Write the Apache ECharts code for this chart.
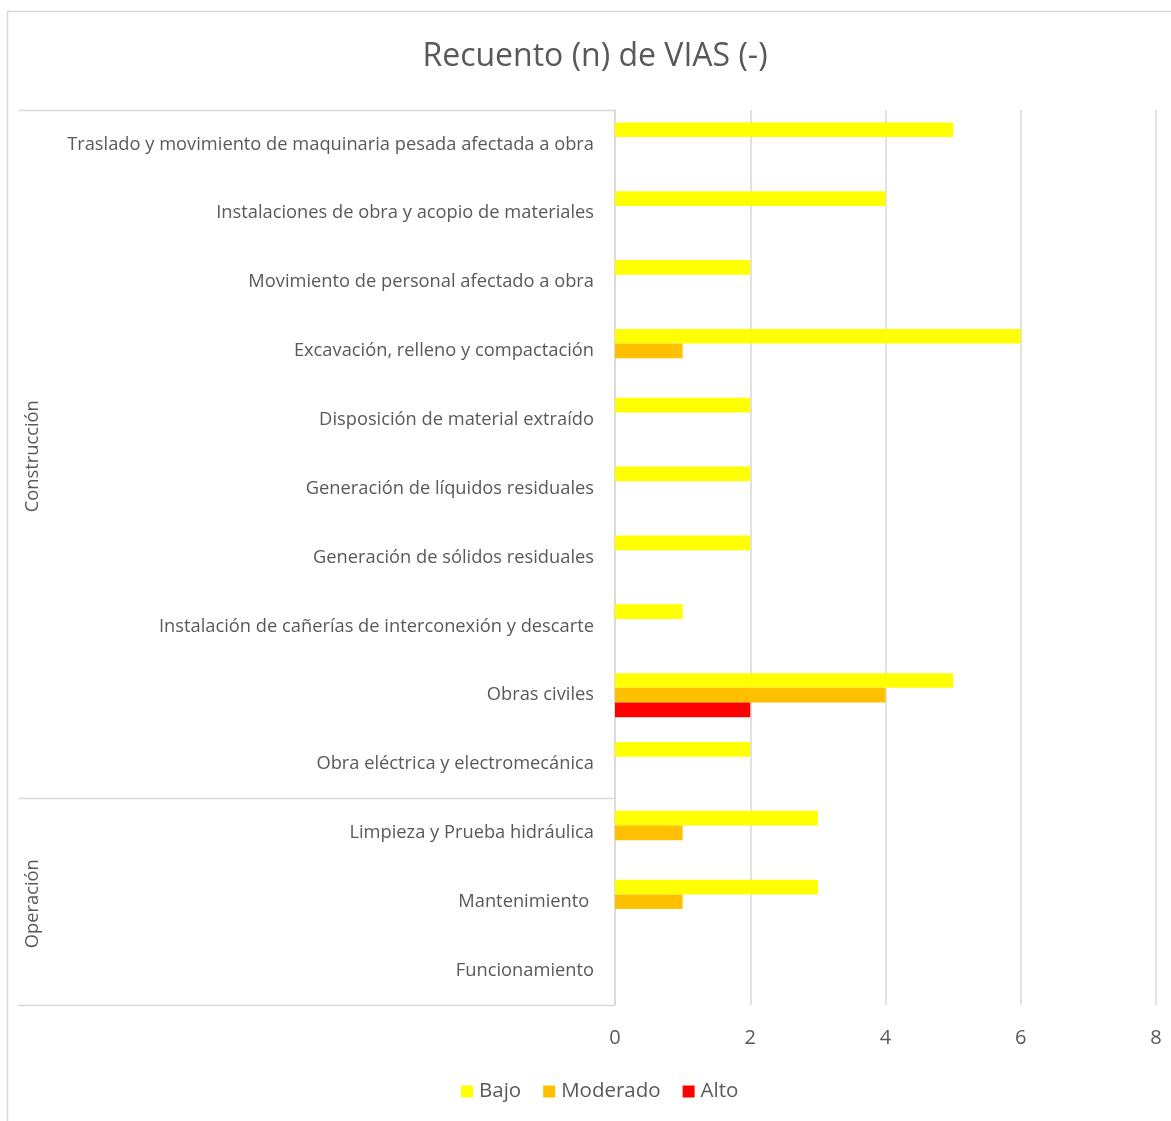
<!DOCTYPE html>
<html>
<head>
<meta charset="utf-8">
<title>Recuento (n) de VIAS (-)</title>
<script src="https://cdn.jsdelivr.net/npm/echarts@6/dist/echarts.min.js"></script>
<style>
  html, body { margin: 0; padding: 0; background: #ffffff; }
  #chart { width: 1171px; height: 1121px; }
</style>
</head>
<body>
<div id="chart"></div>
<script>
// Activities (top to bottom) and the stage each one belongs to
const categories = [
  'Traslado y movimiento de maquinaria pesada afectada a obra',
  'Instalaciones de obra y acopio de materiales',
  'Movimiento de personal afectado a obra',
  'Excavación, relleno y compactación',
  'Disposición de material extraído',
  'Generación de líquidos residuales',
  'Generación de sólidos residuales',
  'Instalación de cañerías de interconexión y descarte',
  'Obras civiles',
  'Obra eléctrica y electromecánica',
  'Limpieza y Prueba hidráulica',
  'Mantenimiento ',
  'Funcionamiento'
];
const groupNames = ['Construcción', 'Operación'];
const groupSizes = [10, 3];

// Counts of impacts per significance level
const bajo     = [5, 4, 2, 6, 2, 2, 2, 1, 5, 2, 3, 3, null];
const moderado = [null, null, null, 1, null, null, null, null, 4, null, 1, 1, null];
const alto     = [null, null, null, null, null, null, null, null, 2, null, null, null, null];

const xTicks = [0, 2, 4, 6, 8];

const FONT = '"Open Sans", "Noto Sans", sans-serif';
const TEXT = '#595959';
const LINE = '#d9d9d9';

const chart = echarts.init(document.getElementById('chart'), null, { renderer: 'canvas' });

const option = {
  backgroundColor: '#ffffff',
  animation: false,
  textStyle: { fontFamily: FONT },
  title: {
    text: 'Recuento (n) de VIAS (-)',
    left: 595,
    textAlign: 'center',
    top: 41,
    padding: 0,
    textStyle: { fontFamily: FONT, fontSize: 32, fontWeight: 'normal', color: TEXT }
  },
  legend: {
    top: 1081,
    left: 461,
    padding: 0,
    icon: 'rect',
    itemWidth: 12,
    itemHeight: 12,
    itemGap: 22,
    textStyle: { fontFamily: FONT, fontSize: 20.5, color: TEXT, padding: [0, 0, 0, 1] },
    data: ['Bajo', 'Moderado', 'Alto']
  },
  grid: { left: 615, right: 15, top: 110, bottom: 116, containLabel: false },
  xAxis: {
    type: 'value',
    min: xTicks[0],
    max: xTicks[xTicks.length - 1],
    interval: xTicks[1] - xTicks[0],
    axisLine: { show: false },
    axisTick: { show: false },
    splitLine: { show: true, lineStyle: { color: LINE, width: 1.5 } },
    axisLabel: { fontFamily: FONT, fontSize: 20, color: TEXT, margin: 23 }
  },
  yAxis: {
    type: 'category',
    inverse: true,
    data: categories,
    axisLine: { show: true, lineStyle: { color: LINE, width: 1.5 } },
    axisTick: { show: false },
    axisLabel: { fontFamily: FONT, fontSize: 18.3, color: TEXT, margin: 21 }
  },
  series: [
    { name: 'Bajo', type: 'bar', data: bajo, itemStyle: { color: '#FFFF00' }, barGap: '0%', barCategoryGap: '36%' },
    { name: 'Moderado', type: 'bar', data: moderado, itemStyle: { color: '#FFC000' }, barGap: '0%', barCategoryGap: '36%' },
    { name: 'Alto', type: 'bar', data: alto, itemStyle: { color: '#FF0000' }, barGap: '0%', barCategoryGap: '36%' }
  ]
};

chart.setOption(option);

// Second-level category labels (stages) with their separator lines
function drawGroups() {
  const yAt = (i) => chart.convertToPixel({ yAxisIndex: 0 }, i);
  const band = yAt(1) - yAt(0);
  const axisX = chart.convertToPixel({ xAxisIndex: 0 }, 0);
  const leftX = 18;
  const elements = [];
  // outer chart border
  elements.push({
    type: 'rect', silent: true,
    shape: { x: 7.5, y: 11.5, width: 1400, height: 1400 },
    style: { fill: 'none', stroke: LINE, lineWidth: 1.5 }
  });
  let start = 0;
  const bounds = [yAt(0) - band / 2];
  groupSizes.forEach((size, g) => {
    const top = yAt(start) - band / 2;
    const bottom = yAt(start + size - 1) + band / 2;
    bounds.push(bottom);
    elements.push({
      type: 'text', silent: true,
      x: 33, y: (top + bottom) / 2 + 2, rotation: Math.PI / 2,
      style: {
        text: groupNames[g], fontFamily: FONT, fontSize: 18.3, fill: TEXT,
        align: 'center', verticalAlign: 'middle'
      }
    });
    start += size;
  });
  bounds.forEach((y) => {
    elements.push({
      type: 'line', silent: true,
      shape: { x1: leftX, y1: Math.round(y) + 0.5, x2: axisX, y2: Math.round(y) + 0.5 },
      style: { stroke: LINE, lineWidth: 1.5 }
    });
  });
  chart.setOption({ graphic: { elements } });
}
drawGroups();
</script>
</body>
</html>
